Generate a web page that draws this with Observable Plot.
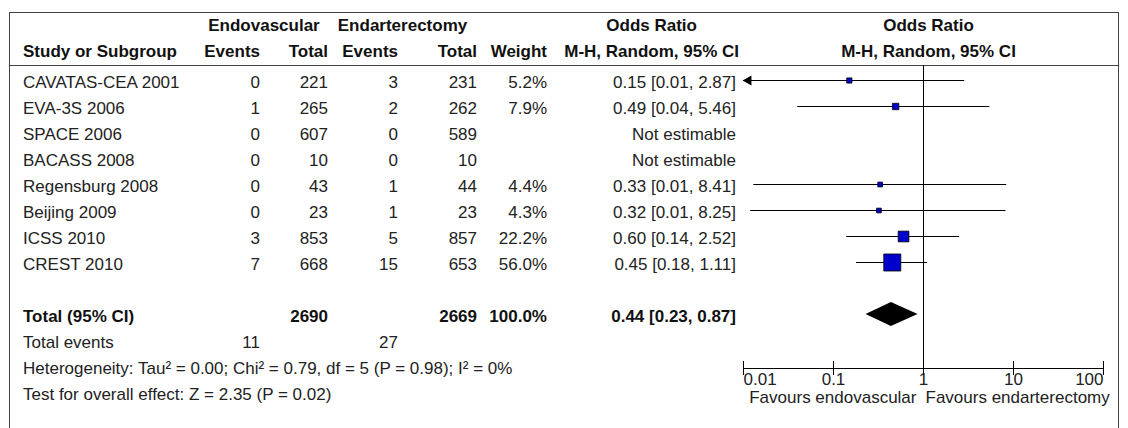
<!DOCTYPE html>
<html>
<head>
<meta charset="utf-8">
<script src="https://cdn.jsdelivr.net/npm/d3@7"></script>
<script src="https://cdn.jsdelivr.net/npm/@observablehq/plot@0.6"></script>
<style>
  html, body { margin: 0; padding: 0; background: #fff; }
  #wrap { position: relative; width: 1128px; height: 428px; overflow: hidden; font-family: "Liberation Sans", Arial, sans-serif; font-size: 17px; color: #222; }
  #box { position: absolute; left: 9px; top: 12px; width: 1108px; height: 440px; border: 1px solid #444; border-bottom: none; }
  table { border-collapse: collapse; table-layout: fixed; width: 1108px; }
  td, th { padding: 0; height: 26px; line-height: 26px; white-space: nowrap; overflow: visible; }
  th { font-weight: bold; color: #111; }
  .l { text-align: left; padding-left: 13px; }
  .r { text-align: right; }
  .c { text-align: center; }
  td.or { padding-right: 3px; }
  .b { font-weight: bold; color: #111; }
  tr.hdr2 th { border-bottom: 1px solid #444; }
  tr.spacer td { height: 4px; line-height: 4px; }
  #plot { position: absolute; left: 735px; top: 65px; }
  .stack { display: inline-block; text-align: center; line-height: 26px; }
</style>
</head>
<body>
<div id="wrap">
  <div id="box"><table id="tbl"></table></div>
  <div id="plot"></div>
</div>
<script>
// ---- data ----
const studies = ["CAVATAS-CEA 2001", "EVA-3S 2006", "SPACE 2006", "BACASS 2008", "Regensburg 2008", "Beijing 2009", "ICSS 2010", "CREST 2010"];
const endoEvents = [0, 1, 0, 0, 0, 0, 3, 7];
const endoTotal = [221, 265, 607, 10, 43, 23, 853, 668];
const endaEvents = [3, 2, 0, 0, 1, 1, 5, 15];
const endaTotal = [231, 262, 589, 10, 44, 23, 857, 653];
const weights = [5.2, 7.9, null, null, 4.4, 4.3, 22.2, 56.0];
const orValue = [0.15, 0.49, null, null, 0.33, 0.32, 0.60, 0.45];
const ciLow = [0.008, 0.04, null, null, 0.013, 0.012, 0.14, 0.18];
const ciHigh = [2.87, 5.46, null, null, 8.41, 8.25, 2.52, 1.11];
const orText = ["0.15 [0.01, 2.87]", "0.49 [0.04, 5.46]", "Not estimable", "Not estimable", "0.33 [0.01, 8.41]", "0.32 [0.01, 8.25]", "0.60 [0.14, 2.52]", "0.45 [0.18, 1.11]"];

const totalLabel = "Total (95% CI)";
const totalEndo = 2690;
const totalEnda = 2669;
const totalWeight = "100.0%";
const totalOR = [0.23, 0.44, 0.87];   // low, estimate, high
const totalORText = "0.44 [0.23, 0.87]";
const totalEventsLabel = "Total events";
const totalEventsEndo = 11;
const totalEventsEnda = 27;
const heterogeneity = "Heterogeneity: Tau² = 0.00; Chi² = 0.79, df = 5 (P = 0.98); I² = 0%";
const overallEffect = "Test for overall effect: Z = 2.35 (P = 0.02)";

const groupHeaders = ["Endovascular", "Endarterectomy"];
const colHeaders = ["Study or Subgroup", "Events", "Total", "Events", "Total", "Weight"];
const orHeader = ["Odds Ratio", "M-H, Random, 95% CI"];
const axisTicks = [0.01, 0.1, 1, 10, 100];
const favours = ["Favours endovascular", "Favours endarterectomy"];

// ---- table (text columns) ----
const colW = [190, 60, 68, 70, 79, 70, 192, 379];
const tbl = document.getElementById("tbl");
let html = "<colgroup>" + colW.map(w => `<col style="width:${w}px">`).join("") + "</colgroup>";
html += `<tr><th></th><th class="c" colspan="2">${groupHeaders[0]}</th><th class="c" colspan="2">${groupHeaders[1]}</th><th></th>` +
        `<th class="r" rowspan="2" style="border-bottom:1px solid #444"><span class="stack">${orHeader[0]}<br>${orHeader[1]}</span></th>` +
        `<th class="c">${orHeader[0]}</th></tr>`;
html += `<tr class="hdr2"><th class="l">${colHeaders[0]}</th>` + colHeaders.slice(1).map(h => `<th class="r">${h}</th>`).join("") +
        `<th class="c">${orHeader[1]}</th></tr>`;
html += `<tr class="spacer"><td colspan="8"></td></tr>`;
studies.forEach((s, i) => {
  html += `<tr><td class="l">${s}</td><td class="r">${endoEvents[i]}</td><td class="r">${endoTotal[i]}</td>` +
          `<td class="r">${endaEvents[i]}</td><td class="r">${endaTotal[i]}</td>` +
          `<td class="r">${weights[i] == null ? "" : weights[i].toFixed(1) + "%"}</td>` +
          `<td class="r or">${orText[i]}</td><td></td></tr>`;
});
html += `<tr><td colspan="8"></td></tr>`;
html += `<tr class="b"><td class="l">${totalLabel}</td><td></td><td class="r">${totalEndo}</td><td></td><td class="r">${totalEnda}</td>` +
        `<td class="r">${totalWeight}</td><td class="r or">${totalORText}</td><td></td></tr>`;
html += `<tr><td class="l">${totalEventsLabel}</td><td class="r">${totalEventsEndo}</td><td></td><td class="r">${totalEventsEnda}</td><td colspan="4"></td></tr>`;
html += `<tr><td class="l" colspan="8">${heterogeneity}</td></tr>`;
html += `<tr><td class="l" colspan="8">${overallEffect}</td></tr>`;
tbl.innerHTML = html;

// ---- forest plot ----
const rows = studies.map((s, i) => ({study: s, row: i, or: orValue[i], lo: ciLow[i], hi: ciHigh[i], w: weights[i]}))
  .filter(d => d.or != null);
const xmin = axisTicks[0], xmax = axisTicks[axisTicks.length - 1];
const totalRow = studies.length + 1;
const halfH = 0.46;
const diamond = [
  {x: totalOR[0], lo: totalRow, hi: totalRow},
  {x: totalOR[1], lo: totalRow - halfH, hi: totalRow + halfH},
  {x: totalOR[2], lo: totalRow, hi: totalRow}
];
const plotH = 363, mB = 60, tickLen = 7;

const chart = Plot.plot({
  width: 383,
  height: plotH,
  marginLeft: 8,
  marginRight: 15,
  marginTop: 0,
  marginBottom: mB,
  x: {type: "log", domain: [xmin, xmax], ticks: axisTicks, tickSize: tickLen, tickFormat: () => "", line: true, label: null},
  y: {domain: [0, 12], range: [15, 327], axis: null},
  r: {type: "sqrt", domain: [0, 56], range: [0, 9.6]},
  style: {fontFamily: "'Liberation Sans', Arial, sans-serif", fontSize: "17px", color: "#000", background: "transparent", overflow: "visible"},
  marks: [
    Plot.ruleX([1], {stroke: "#000"}),
    Plot.ruleX(axisTicks, {x: d => d, insetTop: plotH - mB - tickLen, stroke: "#000"}),
    Plot.text(axisTicks.slice(0, 1), {x: d => d, text: d => String(d), frameAnchor: "bottom", textAnchor: "start", dy: 16, fill: "#222"}),
    Plot.text(axisTicks.slice(1, -1), {x: d => d, text: d => String(d), frameAnchor: "bottom", textAnchor: "middle", dy: 16, fill: "#222"}),
    Plot.text(axisTicks.slice(-1), {x: d => d, text: d => String(d), frameAnchor: "bottom", textAnchor: "end", dy: 16, fill: "#222"}),
    Plot.ruleY(rows, {y: "row", x1: d => Math.max(d.lo, xmin), x2: "hi", stroke: "#000"}),
    Plot.dot(rows.filter(d => d.lo < xmin), {x: () => xmin, y: "row", symbol: "triangle", rotate: -90, r: 3.8, fill: "#000", stroke: "none", dx: 5}),
    Plot.dot(rows, {x: "or", y: "row", r: "w", symbol: "square", fill: "#0000CC", stroke: "#000", strokeWidth: 0.8}),
    Plot.area(diamond, {x1: "x", y1: "lo", y2: "hi", fill: "#000"}),
    Plot.text([favours[0]], {x: () => 1, frameAnchor: "bottom", textAnchor: "end", dx: -7, dy: 34, fill: "#222"}),
    Plot.text([favours[1]], {x: () => 1, frameAnchor: "bottom", textAnchor: "start", dx: 2, dy: 34, fill: "#222"})
  ]
});
document.getElementById("plot").appendChild(chart);
</script>
</body>
</html>
